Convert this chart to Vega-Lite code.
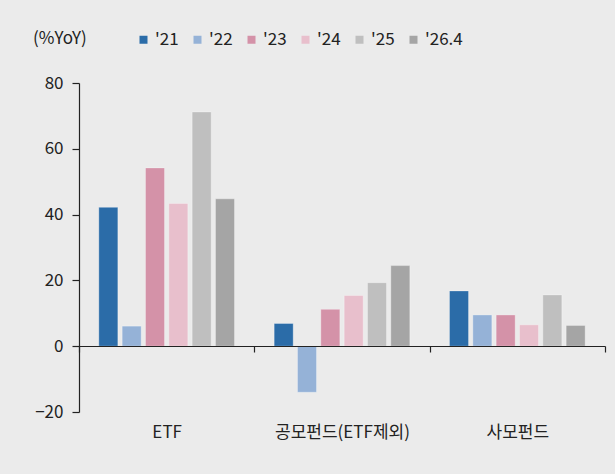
{
  "$schema": "https://vega.github.io/schema/vega-lite/v6.json",
  "width": 526,
  "height": 329,
  "autosize": {"type": "none"},
  "padding": {"left": 79, "top": 83, "right": 10, "bottom": 62},
  "background": "#EBEBEB",
  "config": {
    "view": {"stroke": null},
    "font": "Noto Sans CJK KR",
    "axis": {"labelFont": "Noto Sans CJK KR", "labelFontSize": 17, "labelColor": "#222222", "domainColor": "#222222", "tickColor": "#222222", "domainWidth": 1.2, "tickWidth": 1.2}
  },
  "data": {
    "values": [
      {"cat": "ETF", "year": "'21", "value": 42.2},
      {"cat": "ETF", "year": "'22", "value": 6.1},
      {"cat": "ETF", "year": "'23", "value": 54.2},
      {"cat": "ETF", "year": "'24", "value": 43.4},
      {"cat": "ETF", "year": "'25", "value": 71.2},
      {"cat": "ETF", "year": "'26.4", "value": 44.8},
      {"cat": "공모펀드(ETF제외)", "year": "'21", "value": 6.9},
      {"cat": "공모펀드(ETF제외)", "year": "'22", "value": -14.0},
      {"cat": "공모펀드(ETF제외)", "year": "'23", "value": 11.2},
      {"cat": "공모펀드(ETF제외)", "year": "'24", "value": 15.4},
      {"cat": "공모펀드(ETF제외)", "year": "'25", "value": 19.3},
      {"cat": "공모펀드(ETF제외)", "year": "'26.4", "value": 24.5},
      {"cat": "사모펀드", "year": "'21", "value": 16.8},
      {"cat": "사모펀드", "year": "'22", "value": 9.5},
      {"cat": "사모펀드", "year": "'23", "value": 9.5},
      {"cat": "사모펀드", "year": "'24", "value": 6.5},
      {"cat": "사모펀드", "year": "'25", "value": 15.6},
      {"cat": "사모펀드", "year": "'26.4", "value": 6.3}
    ]
  },
  "mark": {"type": "bar", "stroke": "#ffffff", "strokeOpacity": 0.3, "strokeWidth": 1},
  "encoding": {
    "x": {
      "field": "cat",
      "type": "nominal",
      "sort": ["ETF", "공모펀드(ETF제외)", "사모펀드"],
      "scale": {"paddingInner": 0, "paddingOuter": 0},
      "axis": {"title": null, "labelAngle": 0, "offset": -66, "tickBand": "extent", "tickSize": 6, "labelPadding": 72, "zindex": 1}
    },
    "xOffset": {
      "field": "year",
      "type": "nominal",
      "sort": ["'21", "'22", "'23", "'24", "'25", "'26.4"],
      "scale": {"paddingInner": 0.185, "paddingOuter": 0.85}
    },
    "y": {
      "field": "value",
      "type": "quantitative",
      "scale": {"domain": [-20, 80], "nice": false, "zero": false},
      "axis": {"title": null, "values": [-20, 0, 20, 40, 60, 80], "grid": false, "tickSize": 7, "labelPadding": 9}
    },
    "color": {
      "field": "year",
      "type": "nominal",
      "sort": ["'21", "'22", "'23", "'24", "'25", "'26.4"],
      "scale": {
        "domain": ["'21", "'22", "'23", "'24", "'25", "'26.4"],
        "range": ["#2B6CA8", "#95B2D7", "#D492A8", "#E8BFCC", "#BFBFBF", "#A5A5A5"]
      },
      "legend": {
        "title": "(%YoY)",
        "orient": "none",
        "legendX": -46,
        "legendY": -52,
        "direction": "horizontal",
        "titleOrient": "left",
        "titleFontSize": 17,
        "titleFontWeight": "normal",
        "titleColor": "#222222",
        "titlePadding": 48,
        "titleBaseline": "middle",
        "labelFontSize": 17,
        "labelColor": "#222222",
        "symbolType": "square",
        "symbolSize": 64,
        "symbolStrokeWidth": 0,
        "labelOffset": 3,
        "columnPadding": 10
      }
    }
  }
}
